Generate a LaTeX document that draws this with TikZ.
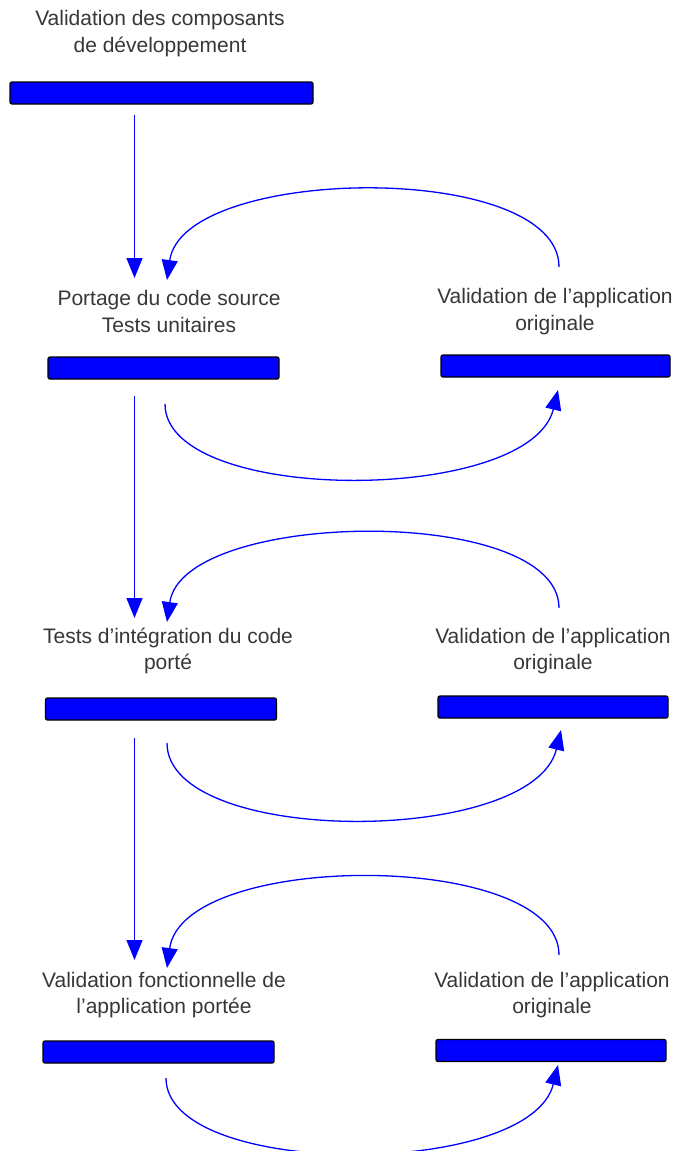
\documentclass[tikz,border=0pt]{standalone}
\usepackage{fontspec}
\setmainfont{Liberation Sans}
\usetikzlibrary{arrows.meta}

\definecolor{txtgray}{RGB}{55,55,55}

\begin{document}
\begin{tikzpicture}[x=1pt, y=1pt,
  lab/.style={align=center, text=txtgray, inner sep=0pt, font=\fontsize{21}{26.5}\selectfont},
  bar/.style={draw=black, fill=blue, line width=1.3pt, rounded corners=2pt, minimum height=22pt, inner sep=0pt},
  flow/.style={blue, line width=1.3pt, -{Triangle[length=20pt, width=16pt]}}]
\useasboundingbox (0,0) rectangle (678,-1151);

%% left column
\node[lab] (t0) at (160,-33.5) {Validation des composants\\de développement};
\node[bar, minimum width=303pt] (b0) at (161.5,-93) {};
\node[lab] (l1) at (169,-311.5) {Portage du code source\\Tests unitaires};
\node[bar, minimum width=231pt] (bl1) at (163.5,-368) {};
\node[lab] (l2) at (168,-651) {Tests d'intégration du code\\porté};
\node[bar, minimum width=231pt] (bl2) at (161,-709) {};
\node[lab] (l3) at (164,-995) {Validation fonctionnelle de\\l'application portée};
\node[bar, minimum width=231pt] (bl3) at (158.5,-1052) {};

%% right column
\node[lab] (r1) at (555,-311.5) {Validation de l'application\\originale};
\node[bar, minimum width=229pt] (br1) at (555.5,-366) {};
\node[lab] (r2) at (553,-651) {Validation de l'application\\originale};
\node[bar, minimum width=230pt] (br2) at (553,-707) {};
\node[lab] (r3) at (552,-995) {Validation de l'application\\originale};
\node[bar, minimum width=230pt] (br3) at (551,-1050.5) {};

%% main flow
\draw[flow] ([shift={(-27,-22)}]b0.center) -- ([shift={(-34.5,33.5)}]l1.center);
\draw[flow] ([shift={(-29,-28)}]bl1.center) -- ([shift={(-33.5,33)}]l2.center);
\draw[flow] ([shift={(-26.5,-29)}]bl2.center) -- ([shift={(-29.5,35)}]l3.center);

%% loops with the original application
\draw[flow] ([shift={(4,44.5)}]r1.center) .. controls +(0,107) and +(16,115) .. ([shift={(-2,31.5)}]l1.center);
\draw[flow] ([shift={(1.5,-36)}]bl1.center) .. controls +(0,-101) and +(-28,-115) .. ([shift={(2.5,-24)}]br1.center);
\draw[flow] ([shift={(6,43)}]r2.center) .. controls +(0,104) and +(16,113) .. ([shift={(-1,29)}]l2.center);
\draw[flow] ([shift={(6,-34)}]bl2.center) .. controls +(0,-103.5) and +(-28,-116.5) .. ([shift={(8,-23)}]br2.center);
\draw[flow] ([shift={(7,40)}]r3.center) .. controls +(0,105) and +(16,118) .. ([shift={(3,27)}]l3.center);
\draw[flow] ([shift={(7.5,-26)}]bl3.center) .. controls +(0,-101) and +(-28,-114) .. ([shift={(7,-14.5)}]br3.center);
\end{tikzpicture}
\end{document}
